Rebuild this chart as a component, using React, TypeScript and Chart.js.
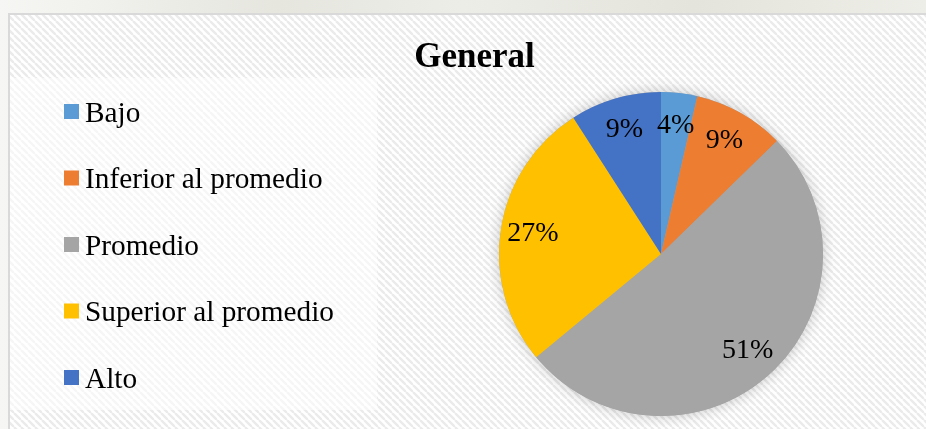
import React, { useEffect, useRef } from "react";
import { Chart, registerables } from "chart.js";

Chart.register(...registerables);

const categories = ["Bajo", "Inferior al promedio", "Promedio", "Superior al promedio", "Alto"];
const values = [3.6, 9.1, 51.3, 26.9, 9.1];
const colors = ["#5B9BD5", "#ED7D31", "#A5A5A5", "#FFC000", "#4472C4"];
const chartTitle = "General";

const W = 926;
const H = 429;

function makeStripePattern(ctx: CanvasRenderingContext2D) {
  const c = document.createElement("canvas");
  c.width = 7;
  c.height = 7;
  const p = c.getContext("2d")!;
  p.fillStyle = "#ffffff";
  p.fillRect(0, 0, 7, 7);
  p.strokeStyle = "#ebebeb";
  p.lineWidth = 2.4;
  for (let k = -14; k <= 14; k += 7) {
    p.beginPath();
    p.moveTo(k, 0);
    p.lineTo(k + 7, 7);
    p.stroke();
  }
  return ctx.createPattern(c, "repeat");
}

const backgroundPlugin = {
  id: "bgFrame",
  beforeDraw(chart: any) {
    const ctx: CanvasRenderingContext2D = chart.ctx;
    ctx.save();
    const g = ctx.createLinearGradient(0, 0, W, 0);
    g.addColorStop(0, "#f6f6f4");
    g.addColorStop(0.3, "#e6e6df");
    g.addColorStop(0.5, "#ededE8");
    g.addColorStop(0.75, "#e4e4dc");
    g.addColorStop(1, "#eeeee8");
    ctx.fillStyle = g;
    ctx.fillRect(0, 0, W, H);
    const pat = makeStripePattern(ctx);
    ctx.fillStyle = pat || "#ffffff";
    ctx.fillRect(9, 14, W - 9, H - 14);
    ctx.fillStyle = "rgba(255,255,255,0.55)";
    ctx.fillRect(10, 78, 367, 332);
    ctx.strokeStyle = "#d9d9d9";
    ctx.lineWidth = 2;
    ctx.beginPath();
    ctx.moveTo(9, H);
    ctx.lineTo(9, 14);
    ctx.lineTo(W, 14);
    ctx.stroke();
    ctx.restore();
  },
};

const shadowPlugin = {
  id: "pieShadow",
  beforeDatasetsDraw(chart: any) {
    const meta = chart.getDatasetMeta(0);
    const arc = meta.data[0];
    if (!arc) return;
    const { x, y, outerRadius } = arc.getProps(["x", "y", "outerRadius"], true);
    const ctx: CanvasRenderingContext2D = chart.ctx;
    ctx.save();
    ctx.shadowColor = "rgba(0,0,0,0.22)";
    ctx.shadowBlur = 14;
    ctx.fillStyle = "#a5a5a5";
    ctx.beginPath();
    ctx.arc(x, y, outerRadius, 0, Math.PI * 2);
    ctx.fill();
    ctx.restore();
  },
};

const labelPlugin = {
  id: "pctLabels",
  afterDatasetsDraw(chart: any) {
    const ctx: CanvasRenderingContext2D = chart.ctx;
    const meta = chart.getDatasetMeta(0);
    const data: number[] = chart.data.datasets[0].data;
    const total = data.reduce((a, b) => a + b, 0);
    ctx.save();
    ctx.font = '28px "Liberation Serif", "Times New Roman", serif';
    ctx.fillStyle = "#000000";
    ctx.textAlign = "center";
    ctx.textBaseline = "middle";
    meta.data.forEach((arc: any, i: number) => {
      const { x, y, startAngle, endAngle, outerRadius } = arc.getProps(
        ["x", "y", "startAngle", "endAngle", "outerRadius"],
        true
      );
      const mid = (startAngle + endAngle) / 2;
      const r = outerRadius * 0.8;
      const lx = x + Math.cos(mid) * r;
      const ly = y + Math.sin(mid) * r;
      ctx.fillText(Math.round((data[i] / total) * 100) + "%", lx, ly);
    });
    ctx.restore();
  },
};

const titleLegendPlugin = {
  id: "titleLegend",
  afterDraw(chart: any) {
    const ctx: CanvasRenderingContext2D = chart.ctx;
    ctx.save();
    ctx.fillStyle = "#000000";
    ctx.textAlign = "center";
    ctx.textBaseline = "alphabetic";
    ctx.font = 'bold 35px "Liberation Serif", "Times New Roman", serif';
    ctx.fillText(chartTitle, 474.5, 67);

    const labels: string[] = chart.data.labels;
    const bg: string[] = chart.data.datasets[0].backgroundColor;
    ctx.font = '29.3px "Liberation Serif", "Times New Roman", serif';
    ctx.textAlign = "left";
    labels.forEach((lab, i) => {
      const cy = 111.5 + i * 66.5;
      ctx.fillStyle = bg[i];
      ctx.fillRect(64, cy - 7.5, 15, 15);
      ctx.fillStyle = "#000000";
      ctx.fillText(lab, 85, cy + 10);
    });
    ctx.restore();
  },
};

export default function App() {
  const canvasRef = useRef<HTMLCanvasElement | null>(null);

  useEffect(() => {
    if (!canvasRef.current) return;
    const chart = new Chart(canvasRef.current, {
      type: "pie",
      data: {
        labels: categories,
        datasets: [
          {
            data: values,
            backgroundColor: colors,
            borderWidth: 0,
          },
        ],
      },
      options: {
        responsive: false,
        animation: false,
        events: [],
        layout: {
          padding: { left: 499, right: 103, top: 92, bottom: 13 },
        },
        plugins: {
          legend: { display: false },
          title: { display: false },
          tooltip: { enabled: false },
        },
      },
      plugins: [backgroundPlugin, shadowPlugin, labelPlugin, titleLegendPlugin],
    });
    return () => chart.destroy();
  }, []);

  return (
    <div style={{ position: "fixed", left: 0, top: 0, width: W, height: H }}>
      <canvas ref={canvasRef} width={W} height={H} style={{ width: W, height: H, display: "block" }} />
    </div>
  );
}
